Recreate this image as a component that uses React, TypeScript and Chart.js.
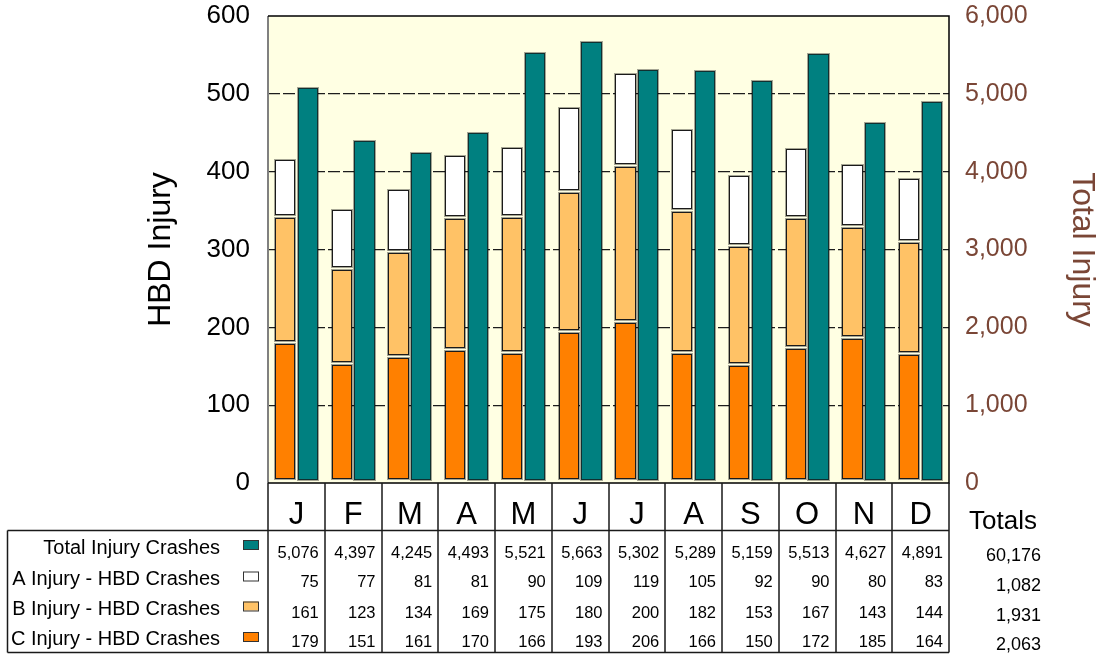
import React, { useEffect, useRef } from 'react';
import { Chart, registerables, BarElement } from 'chart.js';

// ---------- data ----------
const CATEGORIES = ['J', 'F', 'M', 'A', 'M', 'J', 'J', 'A', 'S', 'O', 'N', 'D'];
const TOTAL_INJURY = [5076, 4397, 4245, 4493, 5521, 5663, 5302, 5289, 5159, 5513, 4627, 4891];
const A_INJURY = [75, 77, 81, 81, 90, 109, 119, 105, 92, 90, 80, 83];
const B_INJURY = [161, 123, 134, 169, 175, 180, 200, 182, 153, 167, 143, 144];
const C_INJURY = [179, 151, 161, 170, 166, 193, 206, 166, 150, 172, 185, 164];
const ROW_LABELS = ['Total Injury Crashes', 'A Injury - HBD Crashes', 'B Injury - HBD Crashes', 'C Injury - HBD Crashes'];
const ROW_TOTALS = ['60,176', '1,082', '1,931', '2,063'];
const LEFT_MAX = 600;
const LEFT_STEP = 100;
const RIGHT_MAX = 6000;
const RIGHT_STEP = 1000;

// ---------- styles ----------
const TEAL = '#008080';
const WHITE = '#FFFFFF';
const LIGHT_ORANGE = '#FFC266';
const ORANGE = '#FF8000';
const BROWN = '#7a4636';
const PLOT_BG = '#FFFFE3';
const FONT = "'Liberation Sans', Arial, Helvetica, sans-serif";
const BAR_GAP = 3;

class InsetBar extends BarElement {
  static id = 'insetBar';
  static defaults = { ...(BarElement as any).defaults };
  static defaultRoutes = (BarElement as any).defaultRoutes;
  draw(ctx: CanvasRenderingContext2D) {
    const { x, y, base, width } = (this as any).getProps(['x', 'y', 'base', 'width']);
    const o = (this as any).options;
    const l = Math.round(x - width / 2);
    const r = Math.round(x + width / 2);
    const t = Math.round(Math.min(y, base));
    const b = Math.round(Math.max(y, base) - BAR_GAP);
    if (b - t < 1) return;
    ctx.save();
    ctx.fillStyle = o.backgroundColor;
    ctx.fillRect(l, t, r - l, b - t);
    ctx.lineWidth = 1;
    ctx.strokeStyle = 'rgba(0,0,0,0.35)';
    ctx.strokeRect(l - 0.5, t - 0.5, r - l + 1, b - t + 1);
    ctx.strokeStyle = o.borderColor;
    ctx.strokeRect(l + 0.5, t + 0.5, r - l - 1, b - t - 1);
    ctx.restore();
  }
}

Chart.register(...registerables, InsetBar as any);
(Chart.defaults as any).datasets.bar.dataElementType = 'insetBar';

const decoPlugin = {
  id: 'deco',
  beforeDraw(chart: any) {
    const { ctx, chartArea: ca } = chart;
    ctx.save();
    ctx.fillStyle = '#FFFFFF';
    ctx.fillRect(0, 0, chart.width, chart.height);
    ctx.fillStyle = PLOT_BG;
    ctx.fillRect(ca.left, ca.top, ca.right - ca.left, ca.bottom - ca.top);
    ctx.restore();
  },
  afterDraw(chart: any) {
    const { ctx, chartArea: ca } = chart;
    const xs = chart.scales.x;
    const n = CATEGORIES.length;
    const colW = xs.getPixelForValue(1) - xs.getPixelForValue(0);
    const bounds: number[] = [];
    for (let i = 0; i < n; i++) bounds.push(xs.getPixelForValue(i) - colW / 2);
    bounds.push(xs.getPixelForValue(n - 1) + colW / 2);

    ctx.save();
    // plot frame
    ctx.lineWidth = 2;
    ctx.strokeStyle = '#808080';
    ctx.beginPath();
    ctx.moveTo(ca.left, ca.top);
    ctx.lineTo(ca.left, ca.bottom);
    ctx.stroke();
    ctx.lineWidth = 1.5;
    ctx.strokeStyle = '#000';
    ctx.beginPath();
    ctx.moveTo(ca.left, ca.top);
    ctx.lineTo(ca.right, ca.top);
    ctx.lineTo(ca.right, ca.bottom);
    ctx.lineTo(ca.left, ca.bottom);
    ctx.stroke();

    // table lines
    const headerBottom = 530.5;
    const tableBottom = 652.5;
    const tableLeft = 7.5;
    ctx.lineWidth = 1.5;
    ctx.strokeStyle = '#1a1a1a';
    ctx.beginPath();
    for (const bx of bounds) {
      ctx.moveTo(Math.round(bx), ca.bottom);
      ctx.lineTo(Math.round(bx), tableBottom);
    }
    ctx.moveTo(tableLeft, headerBottom);
    ctx.lineTo(ca.right, headerBottom);
    ctx.moveTo(tableLeft, tableBottom);
    ctx.lineTo(ca.right, tableBottom);
    ctx.moveTo(tableLeft, headerBottom);
    ctx.lineTo(tableLeft, tableBottom);
    ctx.stroke();

    // header letters
    ctx.fillStyle = '#000';
    ctx.textAlign = 'center';
    ctx.textBaseline = 'alphabetic';
    ctx.font = `31px ${FONT}`;
    CATEGORIES.forEach((c, i) => {
      ctx.fillText(c, xs.getPixelForValue(i), 524);
    });

    // row labels + swatches
    const rowColors = [TEAL, WHITE, LIGHT_ORANGE, ORANGE];
    const rowData = [TOTAL_INJURY, A_INJURY, B_INJURY, C_INJURY];
    const labelBase = [553.5, 584.5, 615, 645];
    const swatchTop = [540, 571.5, 601.5, 632];
    const valueBase = [557.5, 587, 617.5, 647];
    const totalBase = [561, 591, 620.5, 650];
    ctx.font = `20px ${FONT}`;
    ctx.textAlign = 'right';
    ROW_LABELS.forEach((lab, r) => {
      ctx.fillStyle = '#000';
      ctx.fillText(lab, 220, labelBase[r]);
      ctx.fillStyle = rowColors[r];
      ctx.fillRect(243, swatchTop[r], 15, 9);
      ctx.lineWidth = 1;
      ctx.strokeStyle = '#333';
      ctx.strokeRect(243.5, swatchTop[r] + 0.5, 15, 9);
    });

    // values
    ctx.fillStyle = '#000';
    ctx.font = `16.5px ${FONT}`;
    ctx.textAlign = 'right';
    rowData.forEach((arr, r) => {
      arr.forEach((v, i) => {
        ctx.fillText(v.toLocaleString('en-US'), bounds[i + 1] - 6, valueBase[r]);
      });
    });

    // totals column
    ctx.textAlign = 'left';
    ctx.font = `26px ${FONT}`;
    ctx.fillText('Totals', 969, 529);
    ctx.textAlign = 'right';
    ctx.font = `18px ${FONT}`;
    ROW_TOTALS.forEach((t, r) => ctx.fillText(t, 1041, totalBase[r]));
    ctx.restore();
  },
};

export default function App() {
  const ref = useRef<HTMLCanvasElement>(null);
  useEffect(() => {
    Chart.defaults.font.family = FONT;
    const chart = new Chart(ref.current as HTMLCanvasElement, {
      type: 'bar',
      data: {
        labels: CATEGORIES,
        datasets: [
          { label: 'C Injury - HBD Crashes', data: C_INJURY, backgroundColor: ORANGE, borderColor: '#1a1a1a', borderWidth: 1, stack: 'hbd', yAxisID: 'y' },
          { label: 'B Injury - HBD Crashes', data: B_INJURY, backgroundColor: LIGHT_ORANGE, borderColor: '#1a1a1a', borderWidth: 1, stack: 'hbd', yAxisID: 'y' },
          { label: 'A Injury - HBD Crashes', data: A_INJURY, backgroundColor: WHITE, borderColor: '#1a1a1a', borderWidth: 1, stack: 'hbd', yAxisID: 'y' },
          { label: 'Total Injury Crashes', data: TOTAL_INJURY, backgroundColor: TEAL, borderColor: '#103030', borderWidth: 1, stack: 'total', yAxisID: 'y2' },
        ] as any,
      },
      options: {
        animation: false,
        responsive: false,
        devicePixelRatio: 1,
        layout: { padding: { left: 0, right: 0, top: 16, bottom: 171 } },
        plugins: { legend: { display: false }, tooltip: { enabled: false } },
        scales: {
          x: { display: false, grid: { display: false } },
          y: {
            type: 'linear',
            position: 'left',
            stacked: true,
            min: 0,
            max: LEFT_MAX,
            ticks: { stepSize: LEFT_STEP, color: '#000', font: { size: 26, family: FONT }, padding: 18 },
            grid: {
              drawTicks: false,
              lineWidth: 1.3,
              color: (c: any) => (c.tick && (c.tick.value === 0 || c.tick.value === LEFT_MAX) ? 'rgba(0,0,0,0)' : '#1c1c1c'),
            },
            border: { display: false, dash: [12, 3] },
            title: { display: true, text: 'HBD Injury', color: '#000', font: { size: 32, family: FONT }, padding: { top: 142, bottom: 0 } },
            afterFit: (s: any) => { s.width = 268; s.paddingTop = 0; s.paddingBottom = 0; },
          },
          y2: {
            type: 'linear',
            position: 'right',
            stacked: true,
            min: 0,
            max: RIGHT_MAX,
            ticks: { stepSize: RIGHT_STEP, color: BROWN, font: { size: 25, family: FONT }, padding: 16 },
            grid: { display: false, drawTicks: false },
            border: { display: false },
            title: { display: true, text: 'Total Injury', color: BROWN, font: { size: 32, family: FONT }, padding: { top: 0, bottom: 0 } },
            afterFit: (s: any) => { s.width = 152; s.paddingTop = 0; s.paddingBottom = 0; },
          },
        },
      } as any,
      plugins: [decoPlugin],
    });
    return () => chart.destroy();
  }, []);
  return (
    <div style={{ position: 'absolute', left: 0, top: 0, width: 1101, height: 654, background: '#fff' }}>
      <canvas ref={ref} width={1101} height={654} style={{ display: 'block', width: 1101, height: 654 }} />
    </div>
  );
}
